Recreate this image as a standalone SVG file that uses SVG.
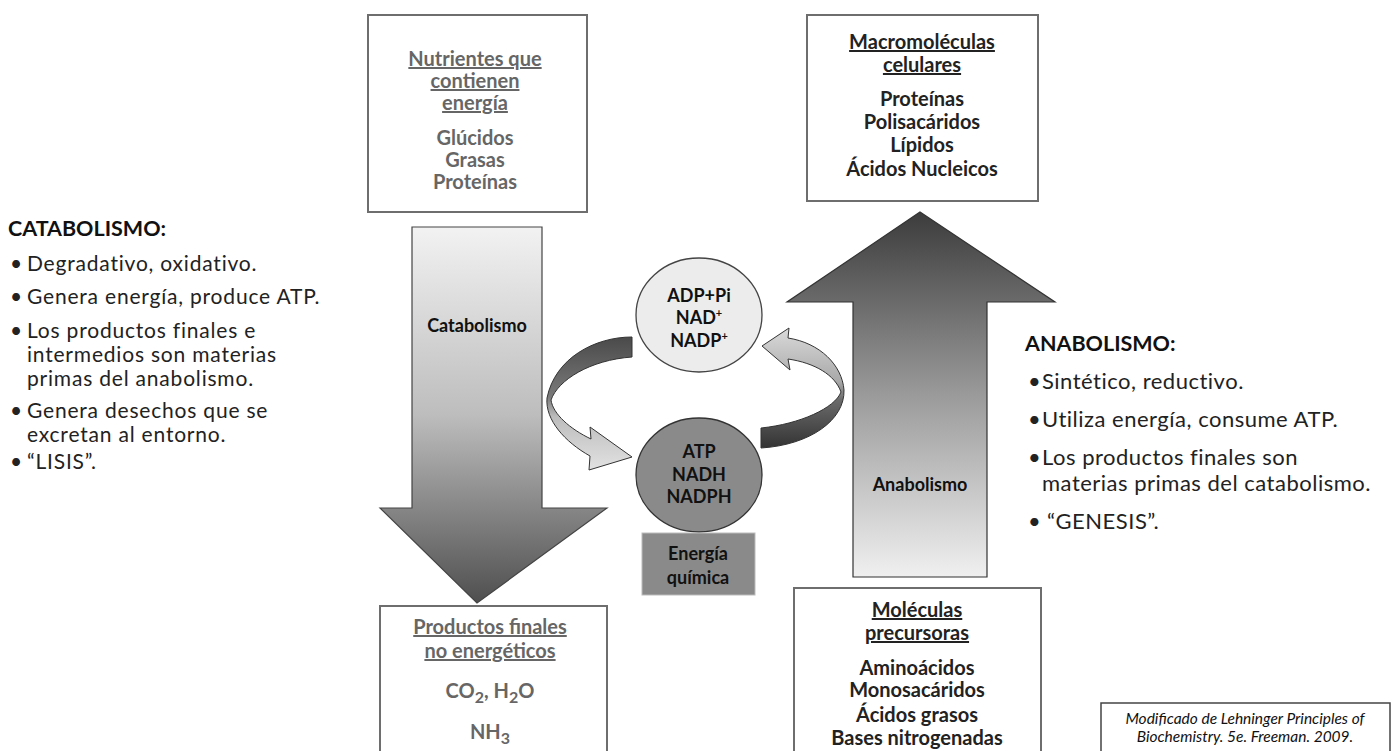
<svg xmlns="http://www.w3.org/2000/svg" width="1397" height="751" viewBox="0 0 1397 751">
<style>
text{font-family:Lato,"Open Sans","Liberation Sans",sans-serif;}
.box{fill:#fff;stroke:#6e6e6e;stroke-width:2;}
.bt{font-weight:bold;font-size:20px;text-anchor:middle;}
.grey{fill:#666;}
.dark{fill:#222;}
.u{text-decoration:underline;}
.lst{font-size:22px;letter-spacing:0.5px;fill:#222;}
.lstl{font-size:21px;letter-spacing:0.8px;fill:#222;}
.hd{font-size:21.5px;font-weight:bold;fill:#111;}
.ct{font-weight:bold;font-size:18px;text-anchor:middle;fill:#111;}
.ref{font-style:italic;font-size:15.5px;text-anchor:middle;fill:#111;}
</style>
<defs>
<linearGradient id="gCat" x1="0" y1="0" x2="0" y2="1">
<stop offset="0" stop-color="#f2f2f2"/>
<stop offset="0.5" stop-color="#bdbdbd"/>
<stop offset="1" stop-color="#4f4f4f"/>
</linearGradient>
<linearGradient id="gAna" x1="0" y1="0" x2="0" y2="1">
<stop offset="0" stop-color="#3c3c3c"/>
<stop offset="0.5" stop-color="#9a9a9a"/>
<stop offset="1" stop-color="#f0f0f0"/>
</linearGradient>
<linearGradient id="gL" x1="0" y1="0" x2="0" y2="1">
<stop offset="0" stop-color="#4a4a4a"/>
<stop offset="0.45" stop-color="#7a7a7a"/>
<stop offset="0.6" stop-color="#bcbcbc"/>
<stop offset="1" stop-color="#e2e2e2"/>
</linearGradient>
<linearGradient id="gR" x1="0" y1="0" x2="0" y2="1">
<stop offset="0" stop-color="#dadada"/>
<stop offset="0.45" stop-color="#a8a8a8"/>
<stop offset="0.6" stop-color="#6a6a6a"/>
<stop offset="1" stop-color="#333"/>
</linearGradient>
</defs>

<g id="connectors">
<path id="catabolismo-arrow" d="M412 227 L542 227 L542 508 L607 508 L477 603 L380 508 L412 508 Z" fill="url(#gCat)" stroke="#444" stroke-width="1.2"/>
<path id="anabolismo-arrow" d="M853 577 L987 577 L987 302 L1055 302 L920 212 L787 302 L853 302 Z" fill="url(#gAna)" stroke="#333" stroke-width="1.2"/>
<path id="cycle-left" d="M632 337 C595 337 555 358 547 398 C545 420 565 442 590 456 L589 470 L632 457 L590 427 L591 439 C570 429 553 414 551 400 C558 380 590 360 632 357 Z" fill="url(#gL)" stroke="#333" stroke-width="1"/>
<path id="cycle-right" d="M761 428 C800 424 835 408 841 392 C835 375 815 363 788 359 L790 370 L762 346 L789 328 L788 338 C820 343 842 365 844 390 C845 420 810 445 761 448 Z" fill="url(#gR)" stroke="#333" stroke-width="1"/>
</g>

<g id="arrow-labels">
<text class="ct" x="477" y="332" font-size="21">Catabolismo</text>
<text class="ct" x="920" y="491" font-size="21">Anabolismo</text>
</g>

<g id="nutrientes">
<rect class="box" x="368" y="15" width="219" height="197"/>
<text class="bt grey u" x="475" y="66">Nutrientes que</text>
<text class="bt grey u" x="475" y="88">contienen</text>
<text class="bt grey u" x="475" y="110">energía</text>
<text class="bt grey" x="475" y="145">Glúcidos</text>
<text class="bt grey" x="475" y="167">Grasas</text>
<text class="bt grey" x="475" y="189">Proteínas</text>
</g>

<g id="macromoleculas">
<rect class="box" x="807" y="15" width="231" height="186"/>
<text class="bt dark u" x="922" y="49">Macromoléculas</text>
<text class="bt dark u" x="922" y="72">celulares</text>
<text class="bt dark" x="922" y="106">Proteínas</text>
<text class="bt dark" x="922" y="129">Polisacáridos</text>
<text class="bt dark" x="922" y="152">Lípidos</text>
<text class="bt dark" x="922" y="176">Ácidos Nucleicos</text>
</g>

<g id="productos">
<rect class="box" x="380" y="606" width="227" height="160"/>
<text class="bt grey u" x="490" y="634">Productos finales</text>
<text class="bt grey u" x="490" y="658">no energéticos</text>
<text class="bt grey" x="490" y="698" font-size="25">CO<tspan font-size="16" dy="5">2</tspan><tspan dy="-5">, H</tspan><tspan font-size="16" dy="5">2</tspan><tspan dy="-5">O</tspan></text>
<text class="bt grey" x="490" y="739" font-size="25">NH<tspan font-size="16" dy="5">3</tspan></text>
</g>

<g id="precursoras">
<rect class="box" x="794" y="588" width="247" height="180"/>
<text class="bt dark u" x="917" y="617">Moléculas</text>
<text class="bt dark u" x="917" y="640">precursoras</text>
<text class="bt dark" x="917" y="675">Aminoácidos</text>
<text class="bt dark" x="917" y="697">Monosacáridos</text>
<text class="bt dark" x="917" y="722">Ácidos grasos</text>
<text class="bt dark" x="917" y="745">Bases nitrogenadas</text>
</g>

<g id="adp">
<ellipse cx="699" cy="315" rx="63" ry="57" fill="#ececec" stroke="#444" stroke-width="1.3"/>
<text class="ct" x="699" y="302">ADP+Pi</text>
<text class="ct" x="699" y="324">NAD<tspan font-size="11" dy="-7">+</tspan></text>
<text class="ct" x="699" y="347">NADP<tspan font-size="11" dy="-7">+</tspan></text>
</g>

<g id="atp">
<ellipse cx="699" cy="475" rx="63" ry="57" fill="#8a8a8a" stroke="#333" stroke-width="1.3"/>
<text class="ct" x="699" y="458">ATP</text>
<text class="ct" x="699" y="481">NADH</text>
<text class="ct" x="699" y="503">NADPH</text>
</g>

<g id="energia">
<rect x="642" y="533" width="113" height="62" fill="#8a8a8a" stroke="#bbb" stroke-width="1"/>
<text class="ct" x="698" y="560" font-size="21">Energía</text>
<text class="ct" x="698" y="584" font-size="21">química</text>
</g>

<g id="catabolismo-text">
<text class="hd" x="8" y="236">CATABOLISMO:</text>
<text class="lstl" x="10" y="271">•<tspan x="27">Degradativo, oxidativo.</tspan></text>
<text class="lstl" x="10" y="304">•<tspan x="27">Genera energía, produce ATP.</tspan></text>
<text class="lstl" x="10" y="338">•<tspan x="27">Los productos finales e</tspan></text>
<text class="lstl" x="27" y="362">intermedios son materias</text>
<text class="lstl" x="27" y="386">primas del anabolismo.</text>
<text class="lstl" x="10" y="418">•<tspan x="27">Genera desechos que se</tspan></text>
<text class="lstl" x="27" y="442">excretan al entorno.</text>
<text class="lstl" x="10" y="469">•<tspan x="27">“LISIS”.</tspan></text>
</g>

<g id="anabolismo-text">
<text class="hd" x="1025" y="351">ANABOLISMO:</text>
<text class="lst" x="1028" y="389">•<tspan x="1042">Sintético, reductivo.</tspan></text>
<text class="lst" x="1028" y="427">•<tspan x="1042">Utiliza energía, consume ATP.</tspan></text>
<text class="lst" x="1028" y="465">•<tspan x="1042">Los productos finales son</tspan></text>
<text class="lst" x="1042" y="491">materias primas del catabolismo.</text>
<text class="lst" x="1028" y="529">•<tspan x="1047">“GENESIS”.</tspan></text>
</g>

<g id="referencia">
<rect x="1101" y="703" width="289" height="60" fill="#fff" stroke="#444" stroke-width="1.5"/>
<text class="ref" x="1245" y="724">Modificado de Lehninger Principles of</text>
<text class="ref" x="1245" y="742">Biochemistry. 5e. Freeman. 2009.</text>
</g>
</svg>
